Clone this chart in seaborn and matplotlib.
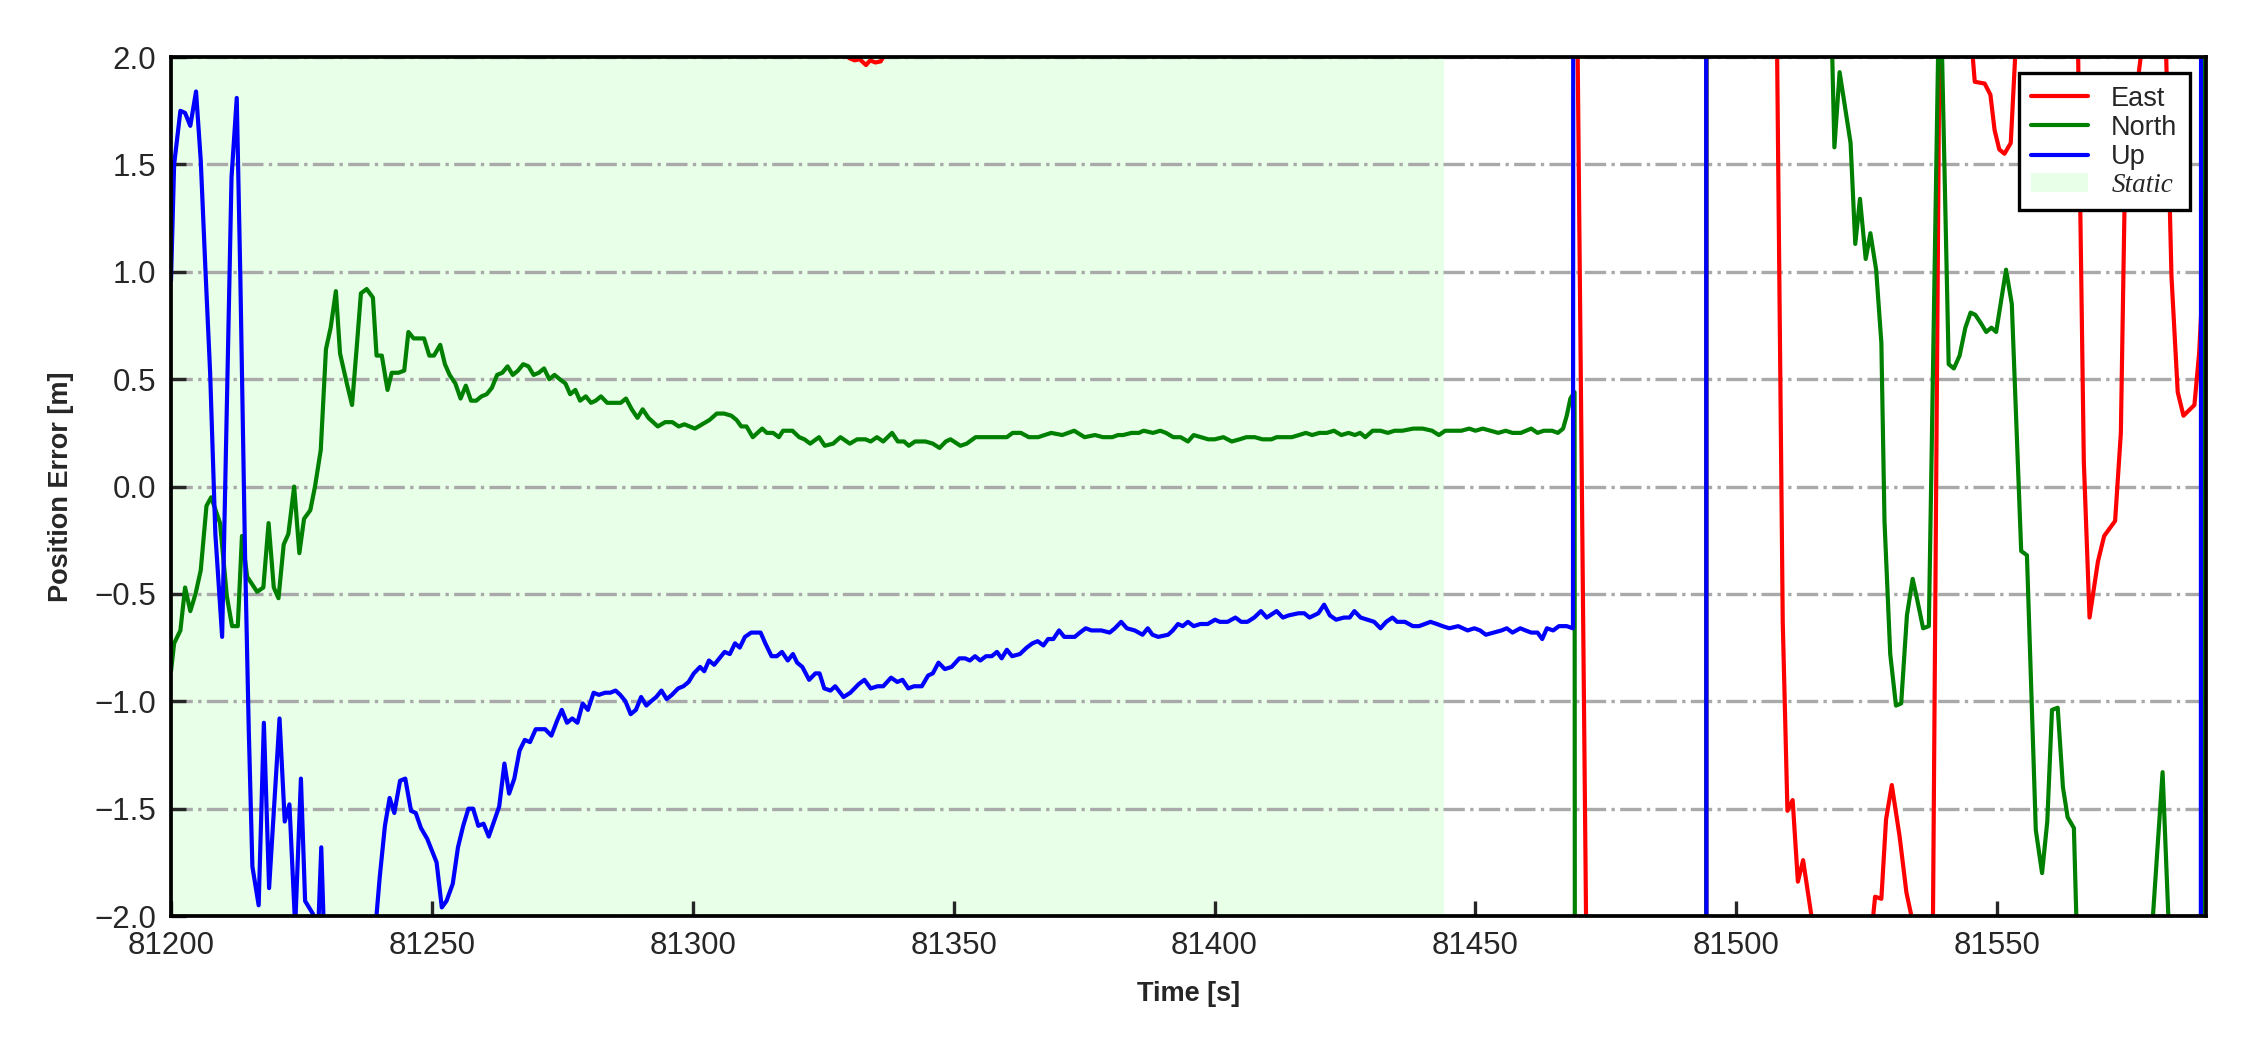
import matplotlib
matplotlib.use("Agg")
import matplotlib.pyplot as plt
from matplotlib.lines import Line2D
from matplotlib.patches import Patch
import seaborn as sns
import pandas as pd

# position error of the three components
east_time = [81200, 81260, 81300, 81325, 81329, 81330, 81331, 81332, 81333.2, 81334, 81335, 81336,
             81337, 81340, 81380, 81420, 81469, 81472, 81494.0, 81494.5, 81507.5, 81508.9, 81509.8,
             81510.8, 81511.8, 81512.8, 81514.4, 81515.5, 81520, 81525, 81526.6, 81527.8, 81528.7,
             81529.8, 81531.3, 81532.6, 81534, 81536, 81537, 81539, 81541, 81544, 81545.7, 81547.6,
             81548.7, 81549.5, 81550.4, 81551.4, 81552.6, 81553.4, 81554, 81560, 81565, 81566.6,
             81567.7, 81569.3, 81570.5, 81572.6, 81573.7, 81574.5, 81576, 81577, 81578, 81580, 81582,
             81583.4, 81584.6, 81585.7, 81587.8, 81588.7, 81589.7, 81590.5]
east_err = [2.7, 2.5, 2.3, 2.1, 2.04, 1.995, 1.985, 1.99, 1.963, 1.985, 1.975, 1.98,
            2.02, 2.15, 2.3, 2.5, 3.5, -4.0, -30, 30, 2.8, -0.63, -1.51,
            -1.46, -1.84, -1.74, -2.0, -2.4, -3.0, -2.3, -1.91, -1.92, -1.55,
            -1.39, -1.63, -1.89, -2.05, -3.3, -4.3, 2.3, 2.9, 2.4, 1.885, 1.877,
            1.825, 1.66, 1.57, 1.55, 1.6, 1.98, 2.5, 3.2, 2.9, 0.12,
            -0.61, -0.35, -0.23, -0.16, 0.25, 1.45, 1.75, 1.9, 2.1, 2.6, 2.4,
            0.98, 0.44, 0.33, 0.38, 0.62, 1.09, 1.6]

north_time = [81200.0, 81200.6, 81201.8, 81202.7, 81203.7, 81204.7, 81205.7, 81206.8, 81207.7, 81209.4,
              81210.7, 81211.7, 81212.8, 81213.6, 81214.6, 81216.5, 81217.7, 81218.7, 81219.7, 81220.6,
              81221.6, 81222.5, 81223.6, 81224.6, 81225.5, 81226.7, 81227.6, 81228.7, 81229.7, 81230.6,
              81231.6, 81232.4, 81233.7, 81234.7, 81235.6, 81236.4, 81237.5, 81238.7, 81239.4, 81240.4,
              81241.5, 81242.3, 81243.6, 81244.7, 81245.5, 81246.5, 81247.4, 81248.5, 81249.5, 81250.4,
              81251.6, 81252.5, 81253.4, 81254.5, 81255.5, 81256.5, 81257.5, 81258.5, 81259.5, 81260.5,
              81261.5, 81262.5, 81263.5, 81264.5, 81265.5, 81266.5, 81267.5, 81268.5, 81269.5, 81270.5,
              81271.5, 81272.5, 81273.5, 81274.5, 81275.6, 81276.5, 81277.5, 81278.4, 81279.5, 81280.5,
              81281.4, 81282.4, 81283.6, 81285.1, 81286.2, 81287.2, 81288.3, 81289.4, 81290.4, 81291.5,
              81293.3, 81294.7, 81296.1, 81297.3, 81298.4, 81300.4, 81301.8, 81303.2, 81304.6, 81306.0,
              81307.4, 81308.4, 81309.3, 81310.3, 81311.5, 81312.4, 81313.3, 81314.2, 81315.4, 81316.5,
              81317.3, 81319.1, 81320.4, 81321.4, 81322.5, 81324.2, 81325.3, 81326.9, 81328.3, 81330.1,
              81331.5, 81333.1, 81334.1, 81335.3, 81336.5, 81338.2, 81339.3, 81340.5, 81341.4, 81342.6,
              81344.6, 81346.0, 81347.3, 81348.5, 81349.4, 81351.3, 81352.5, 81354.2, 81355.8, 81357.4,
              81358.6, 81360.2, 81361.3, 81362.9, 81364.4, 81366.2, 81368.7, 81370.8, 81373.1, 81375.1,
              81377.1, 81378.6, 81380.4, 81381.5, 81382.5, 81384.1, 81385.5, 81386.4, 81388.2, 81389.6,
              81390.7, 81392.1, 81393.5, 81394.9, 81396.0, 81397.4, 81398.8, 81400.0, 81401.7, 81403.3,
              81404.8, 81406.1, 81407.7, 81409.2, 81410.9, 81411.9, 81413.2, 81414.8, 81416.2, 81417.5,
              81418.7, 81420.1, 81421.5, 81422.9, 81424.3, 81425.7, 81426.9, 81427.9, 81428.9, 81430.3,
              81431.8, 81433.2, 81434.5, 81436.0, 81438.1, 81439.9, 81441.7, 81443.0, 81444.2, 81445.9,
              81447.3, 81448.8, 81450.0, 81451.4, 81452.9, 81454.4, 81455.8, 81457.1, 81458.7, 81460.7,
              81461.9, 81463.1, 81464.7, 81465.8, 81466.8, 81467.5, 81468.2, 81469.0, 81469.6, 81494.0,
              81494.5, 81518.0, 81518.8, 81519.8, 81521.9, 81522.8, 81523.7, 81524.8, 81525.7, 81526.8,
              81527.8, 81528.4, 81529.5, 81530.6, 81531.6, 81532.7, 81533.8, 81534.7, 81535.8, 81536.9,
              81539.0, 81540.7, 81541.7, 81542.8, 81543.9, 81544.9, 81545.8, 81546.9, 81547.9, 81548.9,
              81549.8, 81551.7, 81552.8, 81554.6, 81555.7, 81557.4, 81558.6, 81559.6, 81560.5, 81561.6,
              81562.6, 81563.5, 81564.7, 81565.5, 81572.0, 81579.3, 81581.7, 81582.8, 81583.5, 81589.1,
              81589.6]
north_err = [-0.86, -0.73, -0.67, -0.47, -0.58, -0.50, -0.39, -0.09, -0.05, -0.17,
             -0.51, -0.65, -0.65, -0.23, -0.42, -0.49, -0.47, -0.17, -0.47, -0.52,
             -0.27, -0.22, 0.0, -0.31, -0.15, -0.11, 0.0, 0.17, 0.64, 0.74,
             0.91, 0.62, 0.48, 0.38, 0.65, 0.90, 0.92, 0.88, 0.61, 0.61,
             0.45, 0.53, 0.53, 0.54, 0.72, 0.69, 0.69, 0.69, 0.61, 0.61,
             0.66, 0.57, 0.52, 0.48, 0.41, 0.47, 0.40, 0.40, 0.42, 0.43,
             0.46, 0.52, 0.53, 0.56, 0.52, 0.54, 0.57, 0.56, 0.52, 0.53,
             0.55, 0.50, 0.52, 0.50, 0.48, 0.43, 0.45, 0.40, 0.42, 0.39,
             0.40, 0.42, 0.39, 0.39, 0.39, 0.41, 0.36, 0.32, 0.36, 0.32,
             0.28, 0.30, 0.30, 0.28, 0.29, 0.27, 0.29, 0.31, 0.34, 0.34,
             0.33, 0.31, 0.28, 0.28, 0.23, 0.25, 0.27, 0.25, 0.25, 0.23,
             0.26, 0.26, 0.23, 0.22, 0.20, 0.23, 0.19, 0.20, 0.23, 0.20,
             0.22, 0.22, 0.21, 0.23, 0.21, 0.25, 0.21, 0.21, 0.19, 0.21,
             0.21, 0.20, 0.18, 0.21, 0.22, 0.19, 0.20, 0.23, 0.23, 0.23,
             0.23, 0.23, 0.25, 0.25, 0.23, 0.23, 0.25, 0.24, 0.26, 0.23,
             0.24, 0.23, 0.23, 0.24, 0.24, 0.25, 0.25, 0.26, 0.25, 0.26,
             0.25, 0.23, 0.23, 0.21, 0.24, 0.23, 0.22, 0.22, 0.23, 0.21,
             0.22, 0.23, 0.23, 0.22, 0.22, 0.23, 0.23, 0.23, 0.24, 0.25,
             0.24, 0.25, 0.25, 0.26, 0.24, 0.25, 0.24, 0.25, 0.23, 0.26,
             0.26, 0.25, 0.26, 0.26, 0.27, 0.27, 0.26, 0.24, 0.26, 0.26,
             0.26, 0.27, 0.26, 0.27, 0.26, 0.25, 0.26, 0.25, 0.25, 0.27,
             0.25, 0.26, 0.26, 0.25, 0.27, 0.33, 0.41, 0.44, -30, -30,
             30, 2.4, 1.58, 1.93, 1.60, 1.13, 1.34, 1.06, 1.18, 1.01,
             0.67, -0.16, -0.78, -1.02, -1.01, -0.60, -0.43, -0.53, -0.66, -0.65,
             2.5, 0.57, 0.55, 0.61, 0.74, 0.81, 0.80, 0.76, 0.72, 0.74,
             0.72, 1.01, 0.85, -0.30, -0.32, -1.60, -1.80, -1.56, -1.04, -1.03,
             -1.40, -1.54, -1.59, -2.3, -2.8, -2.2, -1.33, -2.0, -2.4, -30,
             30]

up_time = [81200.0, 81200.6, 81201.8, 81202.7, 81203.7, 81204.8, 81205.7, 81206.6, 81207.5, 81208.5,
           81209.8, 81211.6, 81212.6, 81213.3, 81214.2, 81214.9, 81215.6, 81216.8, 81217.8, 81218.8,
           81220.8, 81221.8, 81222.7, 81223.8, 81224.9, 81225.7, 81227.2, 81228.0, 81228.8, 81229.6,
           81232.0, 81236.0, 81239.2, 81240.0, 81241.0, 81241.9, 81242.8, 81243.9, 81244.9, 81246.0,
           81246.9, 81247.9, 81249.1, 81250.9, 81251.9, 81252.8, 81254.0, 81255.0, 81256.0, 81257.0,
           81257.9, 81258.9, 81259.9, 81260.9, 81261.9, 81262.9, 81263.9, 81264.8, 81265.8, 81266.8,
           81267.8, 81268.8, 81269.9, 81271.7, 81272.9, 81274.0, 81274.9, 81275.9, 81276.9, 81277.9,
           81278.9, 81279.9, 81281.0, 81282.0, 81283.2, 81284.2, 81285.2, 81286.1, 81287.1, 81288.1,
           81289.1, 81290.1, 81291.1, 81292.0, 81293.0, 81294.0, 81295.0, 81296.0, 81297.2, 81298.2,
           81299.2, 81300.2, 81301.4, 81302.2, 81303.1, 81304.1, 81305.1, 81306.1, 81307.1, 81308.1,
           81309.0, 81310.0, 81311.2, 81313.0, 81313.9, 81315.1, 81316.1, 81317.1, 81318.2, 81319.2,
           81320.0, 81321.0, 81322.3, 81323.5, 81324.3, 81325.2, 81326.4, 81327.3, 81328.9, 81330.2,
           81331.8, 81332.9, 81334.1, 81335.4, 81336.5, 81338.0, 81339.2, 81340.2, 81341.3, 81342.4,
           81343.9, 81345.1, 81346.0, 81347.1, 81348.3, 81349.6, 81351.1, 81352.2, 81353.1, 81354.1,
           81355.1, 81356.2, 81357.3, 81358.3, 81359.2, 81360.2, 81361.2, 81362.7, 81364.0, 81365.1,
           81366.1, 81367.2, 81368.1, 81369.1, 81370.2, 81371.2, 81372.3, 81373.2, 81374.2, 81375.3,
           81376.4, 81377.6, 81378.3, 81379.9, 81380.9, 81382.1, 81383.2, 81384.7, 81386.2, 81387.2,
           81388.1, 81389.2, 81391.1, 81392.0, 81393.0, 81393.9, 81394.9, 81396.0, 81397.3, 81398.7,
           81400.1, 81401.0, 81402.5, 81404.0, 81405.1, 81406.3, 81407.6, 81408.9, 81410.0, 81411.9,
           81413.1, 81414.2, 81416.1, 81417.2, 81418.2, 81419.9, 81421.0, 81422.1, 81423.3, 81424.8,
           81425.9, 81426.8, 81428.0, 81429.3, 81430.6, 81431.8, 81432.9, 81434.1, 81435.0, 81436.5,
           81438.0, 81439.2, 81440.3, 81441.4, 81442.6, 81443.7, 81445.0, 81446.7, 81448.5, 81449.8,
           81450.9, 81452.0, 81453.5, 81455.0, 81456.0, 81457.1, 81458.6, 81459.6, 81460.7, 81461.9,
           81462.8, 81463.7, 81464.9, 81466.0, 81467.5, 81468.7, 81469.2, 81494.0, 81494.5, 81588.8,
           81589.3]
up_err = [0.96, 1.50, 1.75, 1.74, 1.68, 1.84, 1.52, 1.01, 0.53, -0.22,
          -0.70, 1.44, 1.81, 0.96, -0.33, -1.13, -1.77, -1.95, -1.10, -1.87,
          -1.08, -1.56, -1.48, -2.05, -1.36, -1.93, -1.99, -2.2, -1.68, -2.3,
          -2.6, -2.5, -2.05, -1.82, -1.58, -1.45, -1.52, -1.37, -1.36, -1.51,
          -1.52, -1.59, -1.64, -1.75, -1.96, -1.93, -1.85, -1.68, -1.58, -1.50,
          -1.50, -1.58, -1.57, -1.63, -1.56, -1.49, -1.29, -1.43, -1.36, -1.23,
          -1.18, -1.19, -1.13, -1.13, -1.16, -1.09, -1.04, -1.10, -1.08, -1.10,
          -1.01, -1.04, -0.96, -0.97, -0.96, -0.96, -0.95, -0.97, -1.00, -1.06,
          -1.04, -0.98, -1.02, -1.00, -0.98, -0.95, -0.99, -0.97, -0.94, -0.93,
          -0.91, -0.87, -0.84, -0.86, -0.81, -0.83, -0.80, -0.77, -0.78, -0.73,
          -0.75, -0.70, -0.68, -0.68, -0.73, -0.79, -0.79, -0.77, -0.81, -0.78,
          -0.82, -0.84, -0.90, -0.87, -0.87, -0.94, -0.95, -0.93, -0.98, -0.96,
          -0.92, -0.90, -0.94, -0.93, -0.93, -0.89, -0.91, -0.90, -0.94, -0.93,
          -0.93, -0.88, -0.87, -0.82, -0.85, -0.84, -0.80, -0.80, -0.81, -0.79,
          -0.81, -0.79, -0.79, -0.77, -0.80, -0.76, -0.79, -0.78, -0.75, -0.73,
          -0.72, -0.74, -0.71, -0.71, -0.67, -0.70, -0.70, -0.70, -0.68, -0.66,
          -0.67, -0.67, -0.67, -0.68, -0.66, -0.63, -0.66, -0.67, -0.69, -0.66,
          -0.69, -0.70, -0.69, -0.67, -0.64, -0.65, -0.63, -0.65, -0.64, -0.64,
          -0.62, -0.63, -0.63, -0.61, -0.63, -0.63, -0.61, -0.58, -0.61, -0.58,
          -0.61, -0.60, -0.59, -0.59, -0.61, -0.59, -0.55, -0.60, -0.62, -0.61,
          -0.61, -0.58, -0.61, -0.62, -0.63, -0.66, -0.63, -0.61, -0.63, -0.63,
          -0.65, -0.65, -0.64, -0.63, -0.64, -0.65, -0.66, -0.65, -0.67, -0.66,
          -0.67, -0.69, -0.68, -0.67, -0.66, -0.68, -0.66, -0.67, -0.68, -0.68,
          -0.71, -0.66, -0.67, -0.65, -0.65, -0.66, 30, 30, -30, -30,
          30]

# static period (shaded)
static_start = 81200
static_end = 81444

components = ["East", "North", "Up"]
line_colors = ["red", "green", "blue"]

# long table for seaborn
frames = []
for name, t, e in zip(components, [east_time, north_time, up_time], [east_err, north_err, up_err]):
    frames.append(pd.DataFrame({"time": t, "error": e, "component": name}))
df = pd.concat(frames, ignore_index=True)

sns.set_style("white")
plt.rcParams["font.family"] = ["Liberation Sans", "DejaVu Sans"]

fig = plt.figure(figsize=(7.5, 3.5), dpi=300)
ax = fig.add_axes([0.076, 0.1276, 0.9044, 0.818])

# shade the static part
ax.axvspan(static_start, static_end, color="lime", alpha=0.09, lw=0, zorder=0)

sns.lineplot(data=df, x="time", y="error", hue="component", hue_order=components,
             palette=dict(zip(components, line_colors)), estimator=None, sort=False,
             lw=1.0, legend=False, ax=ax)

ax.set_xlim(81200, 81590)
ax.set_ylim(-2.0, 2.0)
ax.set_xticks([81200, 81250, 81300, 81350, 81400, 81450, 81500, 81550])
ax.set_yticks([-2.0, -1.5, -1.0, -0.5, 0.0, 0.5, 1.0, 1.5, 2.0])

# dash-dot grid on y only
ax.grid(axis="y", linestyle="-.", color="darkgray", lw=0.8)
ax.grid(axis="x", visible=False)
ax.set_axisbelow(True)

ax.tick_params(direction="in", length=3.5, width=0.8, labelsize=7.5, pad=3.5,
               top=False, right=False, bottom=True, left=True)
for s in ax.spines.values():
    s.set_color("black")
    s.set_linewidth(0.9)

ax.set_xlabel("Time [s]", fontsize=6.5, fontweight="bold", labelpad=5)
ax.set_ylabel("Position Error [m]", fontsize=6.5, fontweight="bold", labelpad=5)

handles = [Line2D([], [], color=c, lw=1.0) for c in line_colors]
handles.append(Patch(facecolor="lime", alpha=0.09, lw=0))
leg = ax.legend(handles, components + ["Static"], loc="upper right", fontsize=6.5,
                frameon=True, fancybox=False, framealpha=1, edgecolor="black",
                handlelength=2.1, handletextpad=0.85, labelspacing=0.12,
                borderpad=0.45, borderaxespad=0.6)
leg.get_frame().set_linewidth(0.8)
static_txt = leg.get_texts()[-1]
static_txt.set_fontfamily("Liberation Serif")
static_txt.set_fontstyle("italic")

fig.savefig("out.png", dpi=300)
